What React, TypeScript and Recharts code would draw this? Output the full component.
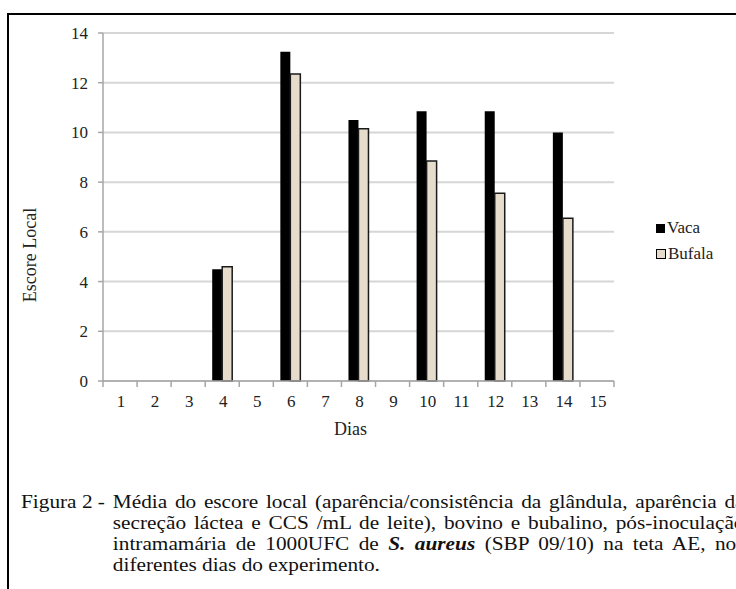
import React from 'react';
import { BarChart, Bar, XAxis, YAxis, CartesianGrid, Label } from 'recharts';

const dias = ['1', '2', '3', '4', '5', '6', '7', '8', '9', '10', '11', '12', '13', '14', '15'];
const vaca = [0, 0, 0, 4.5, 0, 13.25, 0, 10.5, 0, 10.85, 0, 10.85, 0, 10.0, 0];
const bufala = [0, 0, 0, 4.6, 0, 12.35, 0, 10.15, 0, 8.85, 0, 7.55, 0, 6.55, 0];
const yTicks = [0, 2, 4, 6, 8, 10, 12, 14];

const captionLabel = 'Figura 2 -';
const captionLines = [
  'Média do escore local (aparência/consistência da glândula, aparência da',
  'secreção láctea e CCS /mL de leite), bovino e bubalino, pós-inoculação',
  'intramamária de 1000UFC de S. aureus (SBP 09/10) na teta AE, nos',
  'diferentes dias do experimento.',
];

const data = dias.map((d, i) => ({ dia: d, Vaca: vaca[i] || null, Bufala: bufala[i] || null }));

const FONT = "'Liberation Serif', 'Times New Roman', serif";
const PLOT_LEFT = 103;
const PLOT_RIGHT = 614;
const AXIS_Y = 381;
const BAND = (PLOT_RIGHT - PLOT_LEFT) / dias.length;

const DayTick = (props: any) => {
  const { x, payload, index } = props;
  return (
    <g>
      <line x1={x - BAND / 2} x2={x - BAND / 2} y1={AXIS_Y} y2={AXIS_Y + 6} stroke="#a6a6a6" strokeWidth={1.5} />
      {index === dias.length - 1 && (
        <line x1={x + BAND / 2} x2={x + BAND / 2} y1={AXIS_Y} y2={AXIS_Y + 6} stroke="#a6a6a6" strokeWidth={1.5} />
      )}
      <text x={x + 1} y={AXIS_Y + 26} textAnchor="middle" fontSize={17} fill="#222" style={{ fontFamily: FONT }}>
        {payload.value}
      </text>
    </g>
  );
};

const YTitle = () => (
  <text x={30} y={255} transform="rotate(-90 30 255)" textAnchor="middle" dominantBaseline="central" fontSize={18} fill="#222" style={{ fontFamily: FONT }}>
    Escore Local
  </text>
);

function renderLine(text: string, i: number) {
  if (i !== 2) return text;
  const parts = text.split('S. aureus');
  return (
    <>
      {parts[0]}
      <b><i>S. aureus</i></b>
      {parts[1]}
    </>
  );
}

export default function App() {
  return (
    <div style={{ position: 'fixed', left: 0, top: 0, width: 736, height: 589, overflow: 'hidden', background: '#fff', fontFamily: FONT }}>
      <div style={{ position: 'absolute', left: 7, top: 13, width: 800, height: 700, borderLeft: '2px solid #000', borderTop: '2px solid #000' }} />
      <div style={{ position: 'absolute', left: 0, top: 0 }}>
        <BarChart
          width={736}
          height={460}
          data={data}
          margin={{ top: 33, right: 736 - PLOT_RIGHT, bottom: 0, left: PLOT_LEFT - 60 }}
          barSize={10}
          barGap={0}
          style={{ fontFamily: FONT }}
        >
          <CartesianGrid vertical={false} stroke="#d6d6d6" strokeWidth={2} />
          <XAxis
            dataKey="dia"
            height={79}
            tickLine={false}
            axisLine={{ stroke: '#a6a6a6', strokeWidth: 1.5 }}
            tick={<DayTick />}
            interval={0}
          >
            <Label value="Dias" position="insideBottom" offset={25} dx={-8} fontSize={18} fill="#222" style={{ fontFamily: FONT }} />
          </XAxis>
          <YAxis
            width={60}
            domain={[0, 14]}
            ticks={yTicks}
            interval={0}
            tickSize={5}
            tickMargin={10}
            axisLine={{ stroke: '#a6a6a6', strokeWidth: 1.5 }}
            tickLine={{ stroke: '#a6a6a6', strokeWidth: 1.5 }}
            tick={{ fontSize: 17, fill: '#222', style: { fontFamily: FONT } }}
          >
            <Label content={<YTitle />} />
          </YAxis>
          <Bar dataKey="Vaca" fill="#000" isAnimationActive={false} />
          <Bar dataKey="Bufala" fill="#e6dccb" stroke="#1a1a1a" strokeWidth={1.5} isAnimationActive={false} />
        </BarChart>
      </div>
      <div style={{ position: 'absolute', left: 656, top: 215, fontSize: 17, color: '#222', lineHeight: '26px' }}>
        <div style={{ display: 'flex', alignItems: 'center' }}>
          <span style={{ display: 'inline-block', width: 9, height: 9, background: '#000', marginRight: 2 }} />
          Vaca
        </div>
        <div style={{ display: 'flex', alignItems: 'center' }}>
          <span style={{ display: 'inline-block', width: 8, height: 8, background: '#e6dccb', border: '1px solid #000', marginRight: 2 }} />
          Bufala
        </div>
      </div>
      <div
        style={{
          position: 'absolute',
          left: 21,
          top: 491,
          fontSize: 19,
          color: '#111',
          lineHeight: '21px',
          transform: 'scaleX(1.12)',
          transformOrigin: '0 0',
        }}
      >
        <div style={{ position: 'absolute', left: 0, top: 0, whiteSpace: 'nowrap' }}>{captionLabel}</div>
        {captionLines.map((line, i) => (
          <div
            key={i}
            style={{
              marginLeft: 82,
              width: 564,
              textAlign: 'justify',
              textAlignLast: i < 3 ? 'justify' : 'left',
              whiteSpace: 'nowrap',
            } as React.CSSProperties}
          >
            {renderLine(line, i)}
          </div>
        ))}
      </div>
    </div>
  );
}
